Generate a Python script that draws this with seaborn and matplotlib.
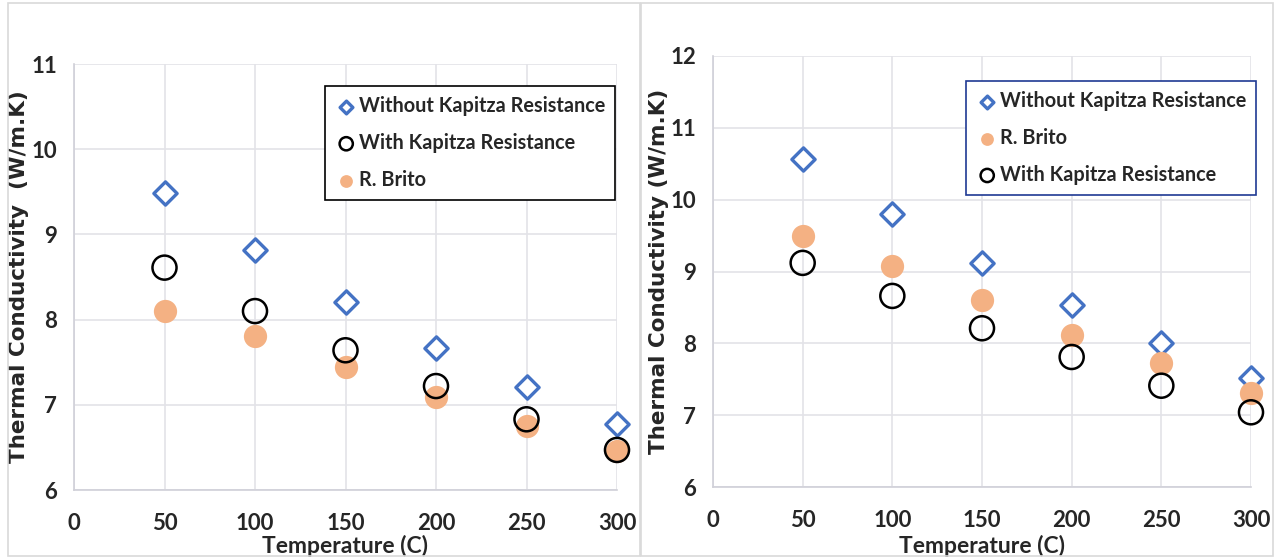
import numpy as np
import pandas as pd
import matplotlib
matplotlib.use("Agg")
import matplotlib.pyplot as plt
import seaborn as sns
from matplotlib.patches import Rectangle

sns.set_theme(style="white")
plt.rcParams["font.family"] = ["Lato", "DejaVu Sans"]

temperature = [50, 100, 150, 200, 250, 300]

# Left panel
left_without = [9.49, 8.82, 8.21, 7.67, 7.21, 6.77]
left_with = [8.61, 8.10, 7.64, 7.22, 6.83, 6.47]
left_brito = [8.10, 7.81, 7.44, 7.09, 6.75, 6.46]

# Right panel
right_without = [10.56, 9.80, 9.12, 8.53, 8.00, 7.52]
right_brito = [9.50, 9.08, 8.61, 8.12, 7.72, 7.31]
right_with = [9.12, 8.66, 8.21, 7.81, 7.41, 7.04]

x_ticks = [0, 50, 100, 150, 200, 250, 300]

BLUE = "#4472C4"
ORANGE = "#F4B183"

styles = {
    "Without Kapitza Resistance": dict(marker="D", s=140, facecolor="white", edgecolor=BLUE, linewidth=2.4, zorder=3),
    "With Kapitza Resistance": dict(marker="o", s=300, facecolor="none", edgecolor="black", linewidth=1.8, zorder=4),
    "R. Brito": dict(marker="o", s=280, facecolor=ORANGE, edgecolor=ORANGE, linewidth=0, zorder=3),
}

fig = plt.figure(figsize=(12.75, 5.59), dpi=100)

# panel frames
fig.patches.append(Rectangle((8 / 1275, 3 / 559), 632 / 1275, 553 / 559, transform=fig.transFigure,
                             fill=False, edgecolor="#D9D9D9", linewidth=1.2))
fig.patches.append(Rectangle((641 / 1275, 3 / 559), 632 / 1275, 553 / 559, transform=fig.transFigure,
                             fill=False, edgecolor="#D9D9D9", linewidth=1.2))

ax1 = fig.add_axes([74 / 1275, 1 - 490 / 559, 543 / 1275, 426 / 559])
ax2 = fig.add_axes([713 / 1275, 1 - 487 / 559, 538 / 1275, 431 / 559])


def draw_panel(ax, series, ylim, ylabel, legend_order, legend_edge, legend_bbox,
               ylabel_x, xlabel_y):
    for name, vals in series.items():
        df = pd.DataFrame({"T": temperature, "k": vals})
        st = styles[name]
        fc = st["facecolor"]
        sns.scatterplot(data=df, x="T", y="k", ax=ax, marker=st["marker"], s=st["s"],
                        color=fc if fc != "none" else "white", edgecolor=st["edgecolor"],
                        linewidth=st["linewidth"], zorder=st["zorder"], label=name,
                        legend=False, clip_on=False)
        if fc == "none":
            ax.collections[-1].set_facecolor("none")
    ax.set_xlim(0, 300)
    ax.set_ylim(*ylim)
    ax.set_xticks(x_ticks)
    ax.set_yticks(np.arange(ylim[0], ylim[1] + 1, 1))
    ax.grid(True, color="#E3E3E8", linewidth=1.2)
    ax.set_axisbelow(True)
    for side in ["top", "right"]:
        ax.spines[side].set_visible(False)
    for side in ["left", "bottom"]:
        ax.spines[side].set_color("#D0D0D8")
        ax.spines[side].set_linewidth(1.2)
    ax.tick_params(axis="x", length=0, pad=16.5, labelsize=16)
    ax.tick_params(axis="y", length=0, pad=12, labelsize=16)
    for lbl in ax.get_xticklabels() + ax.get_yticklabels():
        lbl.set_fontweight("bold")
    ax.set_xlabel("Temperature (C)", fontsize=16.5, fontweight="bold")
    ax.xaxis.set_label_coords(0.5, xlabel_y)
    ax.set_ylabel(ylabel, fontsize=15.5, fontweight="bold", family=["DejaVu Sans"])
    ax.yaxis.set_label_coords(ylabel_x, 0.5)

    handles, labels = ax.get_legend_handles_labels()
    hmap = dict(zip(labels, handles))
    leg = ax.legend([hmap[n] for n in legend_order], legend_order, loc="upper left",
                    bbox_to_anchor=legend_bbox, borderaxespad=0, frameon=True,
                    fancybox=False, edgecolor=legend_edge, framealpha=1,
                    borderpad=0.5, handletextpad=0.05, handlelength=1.15,
                    labelspacing=0.85, prop=dict(size=14.3, weight="bold"),
                    markerscale=0.55)
    leg.get_frame().set_linewidth(1.2)


draw_panel(ax1,
           {"Without Kapitza Resistance": left_without,
            "With Kapitza Resistance": left_with,
            "R. Brito": left_brito},
           (6, 11), "Thermal Conductivity  (W/m.K)",
           ["Without Kapitza Resistance", "With Kapitza Resistance", "R. Brito"],
           "black", (0.462, 0.948), -0.082, -0.106)

draw_panel(ax2,
           {"Without Kapitza Resistance": right_without,
            "R. Brito": right_brito,
            "With Kapitza Resistance": right_with},
           (6, 12), "Thermal Conductivity (W/m.K)",
           ["Without Kapitza Resistance", "R. Brito", "With Kapitza Resistance"],
           "#1F3A93", (0.47, 0.942), -0.082, -0.111)

fig.savefig("out.png", dpi=100, facecolor="white")
